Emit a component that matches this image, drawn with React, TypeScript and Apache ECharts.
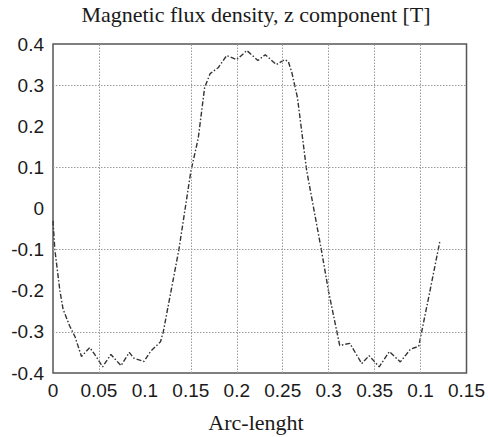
import React, { useEffect, useRef } from "react";
import * as echarts from "echarts";

const xValues = [0, 0.002, 0.0075, 0.011, 0.018, 0.024, 0.031, 0.04, 0.047, 0.054, 0.063, 0.074, 0.083, 0.088, 0.099, 0.106, 0.117, 0.12, 0.137, 0.15, 0.158, 0.165, 0.171, 0.18, 0.189, 0.2, 0.211, 0.223, 0.231, 0.243, 0.252, 0.256, 0.26, 0.266, 0.276, 0.292, 0.3, 0.312, 0.323, 0.336, 0.344, 0.355, 0.366, 0.378, 0.389, 0.398, 0.409, 0.421];
const yValues = [-0.03, -0.1, -0.2, -0.245, -0.285, -0.312, -0.36, -0.338, -0.36, -0.385, -0.355, -0.382, -0.35, -0.364, -0.372, -0.348, -0.324, -0.3, -0.1, 0.09, 0.17, 0.294, 0.328, 0.343, 0.372, 0.362, 0.384, 0.36, 0.374, 0.35, 0.362, 0.358, 0.33, 0.27, 0.093, -0.1, -0.203, -0.333, -0.328, -0.377, -0.358, -0.385, -0.348, -0.373, -0.342, -0.335, -0.214, -0.08];

const xTickLabels = ["0", "0.05", "0.1", "0.15", "0.2", "0.25", "0.3", "0.35", "0.1", "0.15"];
const yTickLabels = ["-0.4", "-0.3", "-0.2", "-0.1", "0", "0.1", "0.2", "0.3", "0.4"];
const xGridValues = [0.05, 0.15, 0.2, 0.25, 0.3, 0.35, 0.4];
const yGridValues = [0.3, 0.1, -0.1, -0.3];

const titleText = "Magnetic flux density, z component [T]";
const xLabelText = "Arc-lenght";

export default function App() {
  const ref = useRef<HTMLDivElement>(null);
  useEffect(() => {
    if (!ref.current) return;
    const chart = echarts.init(ref.current, null, { renderer: "svg" });
    const gridStyle = { color: "#9a9a9a", type: [1.5, 1.5] as any, width: 1 };
    chart.setOption({
      animation: false,
      backgroundColor: "#ffffff",
      grid: {
        left: 53,
        right: 19,
        top: 44,
        bottom: 64,
        show: true,
        borderColor: "#555",
        borderWidth: 1.5,
        backgroundColor: "#fff",
      },
      xAxis: {
        type: "value",
        min: 0,
        max: 0.45,
        interval: 0.05,
        axisLine: { show: false },
        axisTick: { show: false },
        splitLine: { show: false },
        axisLabel: {
          margin: 8,
          fontFamily: "Liberation Sans, Arial, sans-serif",
          fontSize: 19,
          color: "#1a1a1a",
          formatter: (v: number) => xTickLabels[Math.round(v / 0.05)] ?? "",
        },
      },
      yAxis: {
        type: "value",
        min: -0.4,
        max: 0.4,
        interval: 0.1,
        axisLine: { show: false },
        axisTick: { show: false },
        splitLine: { show: false },
        axisLabel: {
          margin: 9,
          fontFamily: "Liberation Sans, Arial, sans-serif",
          fontSize: 19,
          color: "#1a1a1a",
          formatter: (v: number) => yTickLabels[Math.round((v + 0.4) / 0.1)] ?? "",
        },
      },
      graphic: [
        {
          type: "text",
          x: 256,
          y: 3,
          style: {
            text: titleText,
            fontFamily: "Liberation Serif, Times New Roman, serif",
            fontSize: 22,
            fill: "#1a1a1a",
            textAlign: "center",
          },
        },
        {
          type: "text",
          x: 256,
          y: 411,
          style: {
            text: xLabelText,
            fontFamily: "Liberation Serif, Times New Roman, serif",
            fontSize: 22,
            fill: "#1a1a1a",
            textAlign: "center",
          },
        },
      ],
      series: [
        {
          type: "line",
          data: xValues.map((x, i) => [x, yValues[i]]),
          showSymbol: false,
          symbol: "none",
          lineStyle: { color: "#333", width: 1.4, type: [5, 2, 1.5, 2] },
          markLine: {
            silent: true,
            symbol: "none",
            label: { show: false },
            lineStyle: gridStyle,
            data: [
              ...xGridValues.map((v) => ({ xAxis: v })),
              ...yGridValues.map((v) => ({ yAxis: v })),
            ],
          },
          z: 3,
        },
      ],
    });
    return () => chart.dispose();
  }, []);
  return (
    <div
      ref={ref}
      style={{ position: "absolute", left: 0, top: 0, width: 488, height: 437 }}
    />
  );
}
